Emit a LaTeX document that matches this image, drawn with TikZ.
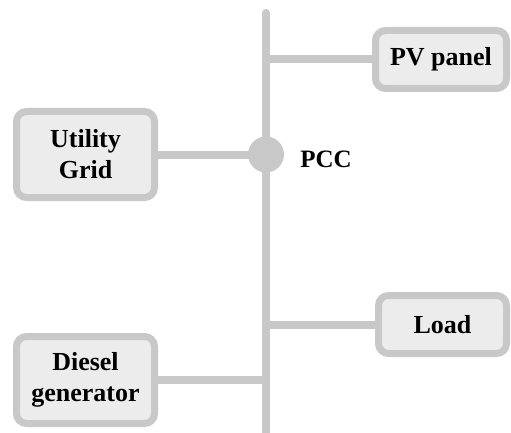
\documentclass[tikz,border=0pt]{standalone}
\usepackage{fontspec}
\setmainfont{Liberation Serif}
\usepackage{tikz}

\definecolor{busgray}{HTML}{C8C8C8}
\definecolor{boxgray}{HTML}{ECECEC}

\begin{document}
\begin{tikzpicture}[x=1pt,y=-1pt,
  unit/.style={draw=busgray,fill=boxgray,line width=7pt,rounded corners=10pt,
    align=center,font=\fontsize{26}{31}\selectfont\bfseries,inner sep=0pt},
  wire/.style={busgray,line width=8pt}]
  \useasboundingbox (0,0) rectangle (511,433);
  % bus
  \coordinate (bustop) at (266,13);
  \coordinate (busbot) at (266,433);
  \draw[wire,line cap=round] (bustop) -- (266,420);
  \draw[wire] (266,420) -- (busbot);
  \node[circle,fill=busgray,minimum size=36pt,inner sep=0pt] (pcc) at (266,154.5) {};
  \node[font=\fontsize{25}{28}\selectfont\bfseries] (pcclabel) at (326,159) {PCC};
  % units
  \node[unit,minimum width=131pt,minimum height=58pt] (pv) at (441,59.5) {PV panel};
  \node[unit,minimum width=138pt,minimum height=86pt] (grid) at (85.5,154.5) {Utility\\Grid};
  \node[unit,minimum width=128pt,minimum height=58pt] (load) at (442.5,324.5) {Load};
  \node[unit,minimum width=138pt,minimum height=87pt] (dg) at (85.5,380) {Diesel\\generator};
  % taps
  \draw[wire] (grid.east) -- (pcc.center);
  \draw[wire] (pv.west) -- (pv.west -| bustop);
  \draw[wire] (load.west) -- (load.west -| bustop);
  \draw[wire] (dg.east) -- (dg.east -| bustop);
\end{tikzpicture}
\end{document}
